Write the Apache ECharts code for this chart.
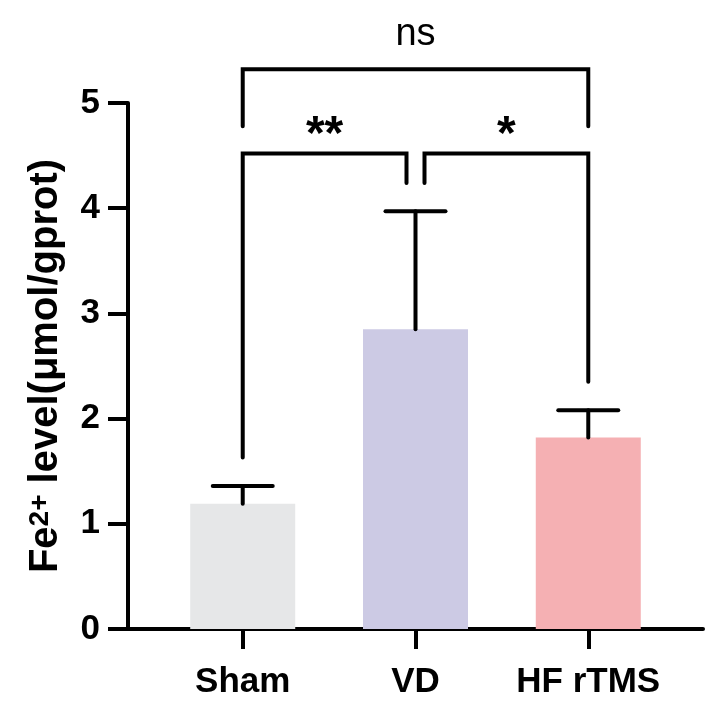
<!DOCTYPE html>
<html>
<head>
<meta charset="utf-8">
<script src="https://cdn.jsdelivr.net/npm/echarts@6/dist/echarts.min.js"></script>
<style>
  html, body { margin: 0; padding: 0; background: #fff; }
  #chart { width: 719px; height: 712px; }
</style>
</head>
<body>
<div id="chart"></div>
<script>
// group names and bar values (Fe2+ level, μmol/gprot)
const categories = ["Sham", "VD", "HF rTMS"];
const means = [1.19, 2.85, 1.82];
const errors = [0.17, 1.12, 0.26];
const barColors = ["#e6e7e8", "#cccae4", "#f5b0b3"];
const yTicks = [0, 1, 2, 3, 4, 5];

// significance brackets: from/to group index, bar height, leg end heights, label
const bracketFrom = [0, 1, 0];
const bracketTo = [1, 2, 2];
const bracketLevel = [4.52, 4.52, 5.32];
const bracketLeftEnd = [1.63, 4.24, 4.78];
const bracketRightEnd = [4.24, 2.35, 4.78];
const bracketLabel = ["**", "*", "ns"];

const FONT = "Liberation Sans, Arial, Helvetica, sans-serif";
const LINE_W = 4;

let chart = echarts.init(document.getElementById("chart"));

const idx = categories.map((c, i) => i);

// bracket ends that meet another bracket on the same level get a small gap
function legShift(b, side) {
  const cat = side === "left" ? bracketFrom[b] : bracketTo[b];
  for (let o = 0; o < bracketLabel.length; o++) {
    if (o === b || bracketLevel[o] !== bracketLevel[b]) continue;
    if (side === "left" && bracketTo[o] === cat) return 9;
    if (side === "right" && bracketFrom[o] === cat) return -9;
  }
  return 0;
}

let option = {
  animation: false,
  backgroundColor: "#fff",
  grid: { left: 128, right: 16, top: 103, bottom: 83 },
  xAxis: {
    type: "value",
    min: -0.664,
    max: 2.664,
    splitLine: { show: false },
    axisLine: { show: true, onZero: false, lineStyle: { color: "#000", width: LINE_W } },
    axisTick: {
      show: true,
      customValues: idx,
      length: 20,
      lineStyle: { color: "#000", width: LINE_W }
    },
    axisLabel: {
      customValues: idx,
      formatter: v => categories[Math.round(v)],
      color: "#000",
      fontFamily: FONT,
      fontWeight: "bold",
      fontSize: 35,
      margin: 36
    }
  },
  yAxis: {
    type: "value",
    min: yTicks[0],
    max: yTicks[yTicks.length - 1],
    interval: 1,
    splitLine: { show: false },
    axisLine: { show: true, onZero: false, lineStyle: { color: "#000", width: LINE_W } },
    axisTick: { show: true, length: 20, lineStyle: { color: "#000", width: LINE_W } },
    axisLabel: {
      color: "#000",
      fontFamily: FONT,
      fontWeight: "bold",
      fontSize: 35,
      margin: 28
    },
    name: "{a|Fe}{s|2+}{a| level(μmol/gprot)}",
    nameLocation: "middle",
    nameGap: 62,
    nameRotate: 90,
    nameTextStyle: {
      color: "#000",
      rich: {
        a: { fontFamily: FONT, fontWeight: "bold", fontSize: 40, color: "#000" },
        s: { fontFamily: FONT, fontWeight: "bold", fontSize: 28, color: "#000", verticalAlign: "top" }
      }
    }
  },
  series: [
    {
      type: "bar",
      barWidth: 105,
      data: idx.map(i => ({ value: [i, means[i]], itemStyle: { color: barColors[i] } })),
      z: 1
    },
    {
      // error bars (upper only)
      type: "custom",
      z: 2,
      data: idx.map(i => [i, means[i], means[i] + errors[i]]),
      renderItem: function (params, api) {
        const x = api.value(0);
        const lo = api.coord([x, api.value(1)]);
        const hi = api.coord([x, api.value(2)]);
        const cap = 30;
        const st = { stroke: "#000", lineWidth: LINE_W, lineCap: "round" };
        return {
          type: "group",
          children: [
            { type: "line", shape: { x1: lo[0], y1: lo[1], x2: hi[0], y2: hi[1] }, style: st },
            { type: "line", shape: { x1: hi[0] - cap, y1: hi[1], x2: hi[0] + cap, y2: hi[1] }, style: st }
          ]
        };
      }
    },
    {
      // significance brackets
      type: "custom",
      z: 3,
      clip: false,
      data: bracketLabel.map((l, b) => [bracketFrom[b], bracketTo[b], bracketLevel[b], bracketLeftEnd[b], bracketRightEnd[b]]),
      renderItem: function (params, api) {
        const b = params.dataIndex;
        const top = api.coord([api.value(0), api.value(2)]);
        const topR = api.coord([api.value(1), api.value(2)]);
        const endL = api.coord([api.value(0), api.value(3)]);
        const endR = api.coord([api.value(1), api.value(4)]);
        const xl = top[0] + legShift(b, "left");
        const xr = topR[0] + legShift(b, "right");
        const lbl = bracketLabel[b];
        const isStar = lbl.indexOf("*") >= 0;
        return {
          type: "group",
          children: [
            {
              type: "polyline",
              shape: { points: [[xl, endL[1]], [xl, top[1]], [xr, top[1]], [xr, endR[1]]] },
              style: { stroke: "#000", fill: null, lineWidth: LINE_W, lineCap: "round", lineJoin: "miter" }
            },
            {
              type: "text",
              x: (xl + xr) / 2,
              y: isStar ? top[1] - 18 : top[1] - 16,
              style: {
                text: lbl,
                fill: "#000",
                align: "center",
                verticalAlign: isStar ? "middle" : "bottom",
                fontFamily: FONT,
                fontWeight: isStar ? "bold" : "normal",
                fontSize: isStar ? 48 : 38
              }
            }
          ]
        };
      }
    }
  ]
};

chart.setOption(option);
</script>
</body>
</html>
